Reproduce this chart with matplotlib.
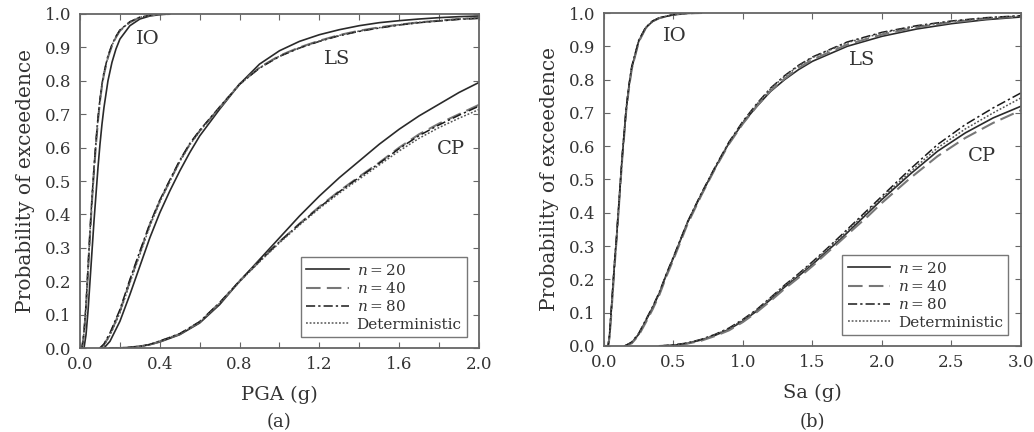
import matplotlib
matplotlib.use("Agg")
import matplotlib.pyplot as plt
from matplotlib.ticker import MultipleLocator, FormatStrFormatter

plt.rcParams['font.family'] = ['DejaVu Serif']
plt.rcParams['mathtext.fontset'] = 'dejavuserif'

# ---------------- Panel (a): PGA ----------------
pga_io_x = [0, 0.01, 0.02, 0.03, 0.04, 0.05, 0.06, 0.07, 0.08, 0.09, 0.10, 0.11, 0.12, 0.14, 0.16, 0.18, 0.20, 0.25, 0.30, 0.35, 0.40, 0.45]
pga_io_n20 = [0, 0.0, 0.0, 0.04, 0.11, 0.20, 0.29, 0.38, 0.46, 0.54, 0.61, 0.67, 0.72, 0.80, 0.855, 0.895, 0.925, 0.965, 0.985, 0.994, 0.998, 1.0]
pga_io_n40 = [0, 0.0, 0.04, 0.12, 0.23, 0.34, 0.44, 0.53, 0.61, 0.68, 0.74, 0.785, 0.82, 0.87, 0.905, 0.93, 0.95, 0.975, 0.99, 0.996, 0.999, 1.0]
pga_io_n80 = [0, 0.0, 0.05, 0.13, 0.24, 0.35, 0.45, 0.54, 0.62, 0.69, 0.745, 0.79, 0.825, 0.875, 0.908, 0.933, 0.952, 0.977, 0.99, 0.996, 0.999, 1.0]
pga_io_det = [0, 0.0, 0.045, 0.125, 0.235, 0.345, 0.445, 0.535, 0.615, 0.685, 0.742, 0.787, 0.822, 0.872, 0.906, 0.931, 0.951, 0.976, 0.99, 0.996, 0.999, 1.0]

pga_ls_x = [0.10, 0.12, 0.15, 0.2, 0.25, 0.3, 0.35, 0.4, 0.45, 0.5, 0.55, 0.6, 0.7, 0.8, 0.9, 1.0, 1.1, 1.2, 1.3, 1.4, 1.5, 1.6, 1.7, 1.8, 1.9, 2.0]
pga_ls_n20 = [0.0, 0.0, 0.02, 0.08, 0.16, 0.245, 0.33, 0.405, 0.47, 0.53, 0.585, 0.635, 0.715, 0.79, 0.85, 0.89, 0.918, 0.938, 0.953, 0.965, 0.974, 0.98, 0.985, 0.989, 0.992, 0.994]
pga_ls_n40 = [0.0, 0.01, 0.04, 0.11, 0.20, 0.285, 0.37, 0.44, 0.50, 0.56, 0.61, 0.65, 0.72, 0.79, 0.84, 0.875, 0.90, 0.92, 0.937, 0.95, 0.96, 0.968, 0.975, 0.98, 0.985, 0.988]
pga_ls_n80 = [0.0, 0.012, 0.045, 0.115, 0.205, 0.29, 0.372, 0.443, 0.503, 0.562, 0.612, 0.652, 0.722, 0.79, 0.838, 0.873, 0.898, 0.918, 0.935, 0.948, 0.958, 0.967, 0.974, 0.979, 0.984, 0.987]
pga_ls_det = [0.0, 0.008, 0.038, 0.105, 0.195, 0.28, 0.365, 0.437, 0.498, 0.558, 0.608, 0.649, 0.72, 0.789, 0.839, 0.874, 0.899, 0.919, 0.936, 0.949, 0.959, 0.968, 0.975, 0.98, 0.985, 0.988]

pga_cp_x = [0.15, 0.2, 0.25, 0.3, 0.35, 0.4, 0.5, 0.6, 0.7, 0.8, 0.9, 1.0, 1.1, 1.2, 1.3, 1.4, 1.5, 1.6, 1.7, 1.8, 1.9, 2.0]
pga_cp_n20 = [0.0, 0.0, 0.002, 0.005, 0.01, 0.018, 0.04, 0.075, 0.13, 0.20, 0.265, 0.33, 0.395, 0.455, 0.51, 0.56, 0.61, 0.655, 0.695, 0.73, 0.765, 0.795]
pga_cp_n40 = [0.0, 0.0, 0.002, 0.005, 0.01, 0.02, 0.042, 0.078, 0.135, 0.20, 0.26, 0.318, 0.372, 0.423, 0.47, 0.513, 0.555, 0.60, 0.64, 0.672, 0.70, 0.728]
pga_cp_n80 = [0.0, 0.0, 0.002, 0.005, 0.011, 0.021, 0.043, 0.079, 0.136, 0.201, 0.261, 0.318, 0.371, 0.421, 0.468, 0.511, 0.553, 0.597, 0.636, 0.668, 0.697, 0.724]
pga_cp_det = [0.0, 0.0, 0.002, 0.005, 0.01, 0.02, 0.041, 0.077, 0.134, 0.199, 0.258, 0.315, 0.368, 0.418, 0.464, 0.506, 0.548, 0.59, 0.628, 0.66, 0.688, 0.714]

# ---------------- Panel (b): Sa ----------------
sa_io_x = [0.0, 0.03, 0.04, 0.05, 0.06, 0.07, 0.08, 0.09, 0.10, 0.11, 0.12, 0.13, 0.14, 0.15, 0.16, 0.18, 0.2, 0.25, 0.3, 0.35, 0.4, 0.5, 0.6, 0.7]
sa_io_n20 = [0.0, 0.0, 0.03, 0.09, 0.15, 0.21, 0.27, 0.32, 0.38, 0.44, 0.50, 0.56, 0.61, 0.66, 0.71, 0.78, 0.835, 0.915, 0.955, 0.975, 0.985, 0.995, 0.999, 1.0]
sa_io_n40 = [0.0, 0.0, 0.025, 0.08, 0.14, 0.20, 0.26, 0.315, 0.375, 0.435, 0.495, 0.555, 0.605, 0.655, 0.705, 0.775, 0.832, 0.913, 0.954, 0.975, 0.985, 0.995, 0.999, 1.0]
sa_io_n80 = [0.0, 0.0, 0.035, 0.095, 0.155, 0.215, 0.275, 0.325, 0.385, 0.445, 0.505, 0.565, 0.615, 0.665, 0.715, 0.785, 0.84, 0.918, 0.957, 0.976, 0.986, 0.995, 0.999, 1.0]
sa_io_det = [0.0, 0.0, 0.032, 0.092, 0.152, 0.212, 0.272, 0.322, 0.382, 0.442, 0.502, 0.562, 0.612, 0.662, 0.712, 0.782, 0.837, 0.917, 0.956, 0.976, 0.986, 0.995, 0.999, 1.0]

sa_ls_x = [0.15, 0.2, 0.25, 0.3, 0.35, 0.4, 0.45, 0.5, 0.6, 0.7, 0.8, 0.9, 1.0, 1.1, 1.2, 1.3, 1.4, 1.5, 1.75, 2.0, 2.25, 2.5, 2.75, 3.0]
sa_ls_n20 = [0.0, 0.01, 0.035, 0.075, 0.115, 0.16, 0.215, 0.265, 0.37, 0.455, 0.535, 0.61, 0.67, 0.72, 0.765, 0.80, 0.83, 0.855, 0.90, 0.93, 0.952, 0.968, 0.98, 0.988]
sa_ls_n40 = [0.0, 0.008, 0.032, 0.07, 0.11, 0.155, 0.21, 0.26, 0.365, 0.452, 0.533, 0.607, 0.668, 0.72, 0.767, 0.803, 0.835, 0.86, 0.905, 0.935, 0.957, 0.972, 0.983, 0.99]
sa_ls_n80 = [0.0, 0.012, 0.038, 0.078, 0.118, 0.163, 0.218, 0.268, 0.372, 0.458, 0.538, 0.613, 0.675, 0.728, 0.775, 0.812, 0.843, 0.868, 0.913, 0.942, 0.962, 0.976, 0.986, 0.992]
sa_ls_det = [0.0, 0.01, 0.036, 0.076, 0.116, 0.161, 0.216, 0.266, 0.37, 0.456, 0.536, 0.611, 0.673, 0.726, 0.773, 0.81, 0.841, 0.866, 0.911, 0.94, 0.96, 0.975, 0.985, 0.991]

sa_cp_x = [0.4, 0.5, 0.6, 0.7, 0.8, 0.9, 1.0, 1.1, 1.2, 1.3, 1.4, 1.5, 1.6, 1.7, 1.8, 1.9, 2.0, 2.2, 2.4, 2.6, 2.8, 3.0]
sa_cp_n20 = [0.0, 0.002, 0.008, 0.018, 0.032, 0.05, 0.075, 0.105, 0.14, 0.177, 0.21, 0.245, 0.283, 0.32, 0.36, 0.40, 0.44, 0.515, 0.585, 0.64, 0.685, 0.72]
sa_cp_n40 = [0.0, 0.002, 0.007, 0.016, 0.03, 0.047, 0.072, 0.102, 0.136, 0.172, 0.205, 0.24, 0.278, 0.315, 0.353, 0.39, 0.43, 0.503, 0.57, 0.625, 0.67, 0.708]
sa_cp_n80 = [0.0, 0.003, 0.009, 0.02, 0.035, 0.054, 0.08, 0.11, 0.146, 0.183, 0.217, 0.253, 0.291, 0.33, 0.37, 0.41, 0.45, 0.53, 0.605, 0.665, 0.715, 0.76]
sa_cp_det = [0.0, 0.003, 0.009, 0.019, 0.034, 0.052, 0.078, 0.108, 0.144, 0.181, 0.215, 0.25, 0.288, 0.326, 0.366, 0.405, 0.445, 0.522, 0.595, 0.652, 0.70, 0.745]

legend_labels = [r'$n=20$', r'$n=40$', r'$n=80$', 'Deterministic']
styles = [dict(color='#2a2a2a', lw=1.2, ls='-'),
          dict(color='#777777', lw=1.5, ls=(0, (7, 3))),
          dict(color='#1a1a1a', lw=1.1, ls=(0, (6, 2, 1.5, 2))),
          dict(color='#555555', lw=1.1, ls=(0, (1.2, 1.2)))]

fig = plt.figure(figsize=(10.34, 4.32), dpi=100)
axA = fig.add_axes([0.0774, 0.1944, 0.3858, 0.7732])
axB = fig.add_axes([0.5841, 0.1991, 0.4033, 0.7708])

panelA = [(pga_io_x, [pga_io_n20, pga_io_n40, pga_io_n80, pga_io_det]),
          (pga_ls_x, [pga_ls_n20, pga_ls_n40, pga_ls_n80, pga_ls_det]),
          (pga_cp_x, [pga_cp_n20, pga_cp_n40, pga_cp_n80, pga_cp_det])]
panelB = [(sa_io_x, [sa_io_n20, sa_io_n40, sa_io_n80, sa_io_det]),
          (sa_ls_x, [sa_ls_n20, sa_ls_n40, sa_ls_n80, sa_ls_det]),
          (sa_cp_x, [sa_cp_n20, sa_cp_n40, sa_cp_n80, sa_cp_det])]

spine_col = '#666666'
text_col = '#333333'

for ax, panel, xmax, xmaj, xmin_, xlabel, tag, states in [
        (axA, panelA, 2.0, 0.4, 0.2, 'PGA (g)', '(a)', [('IO', 0.34, 0.925), ('LS', 1.29, 0.865), ('CP', 1.86, 0.595)]),
        (axB, panelB, 3.0, 0.5, 0.5, 'Sa (g)', '(b)', [('IO', 0.51, 0.93), ('LS', 1.86, 0.86), ('CP', 2.72, 0.57)])]:
    handles = None
    for xs, ys_list in panel:
        hs = []
        for ys, st, lab in zip(ys_list, styles, legend_labels):
            h, = ax.plot(xs, ys, label=lab, **st)
            hs.append(h)
        handles = hs
    ax.set_xlim(0, xmax)
    ax.set_ylim(0, 1.0)
    ax.xaxis.set_major_locator(MultipleLocator(xmaj))
    ax.xaxis.set_minor_locator(MultipleLocator(xmin_))
    ax.yaxis.set_major_locator(MultipleLocator(0.1))
    ax.xaxis.set_major_formatter(FormatStrFormatter('%.1f'))
    ax.yaxis.set_major_formatter(FormatStrFormatter('%.1f'))
    ax.tick_params(which='both', direction='in', top=True, right=True, length=4,
                   width=0.8, color=spine_col, labelsize=12, labelcolor=text_col, pad=6)
    for s in ax.spines.values():
        s.set_color(spine_col)
        s.set_linewidth(1.3)
    ax.set_xlabel(xlabel, fontsize=14, color=text_col, labelpad=9)
    ax.set_ylabel('Probability of exceedence', fontsize=14.5, color=text_col, labelpad=7)
    for name, tx, ty in states:
        ax.text(tx, ty, name, fontsize=14, color=text_col, ha='center', va='center')
    leg = ax.legend(handles=handles, loc='lower right', bbox_to_anchor=(0.97, 0.033),
                    fontsize=11, frameon=True, fancybox=False, edgecolor='#555555',
                    handlelength=2.8, handletextpad=0.5, borderpad=0.35,
                    labelspacing=0.22, borderaxespad=0)
    leg.get_frame().set_linewidth(1.0)
    for t in leg.get_texts():
        t.set_color(text_col)
    pos = ax.get_position()
    fig.text((pos.x0 + pos.x1) / 2, 0.002, tag, fontsize=13, color=text_col,
             ha='center', va='bottom')

fig.savefig('out.png', dpi=100)
